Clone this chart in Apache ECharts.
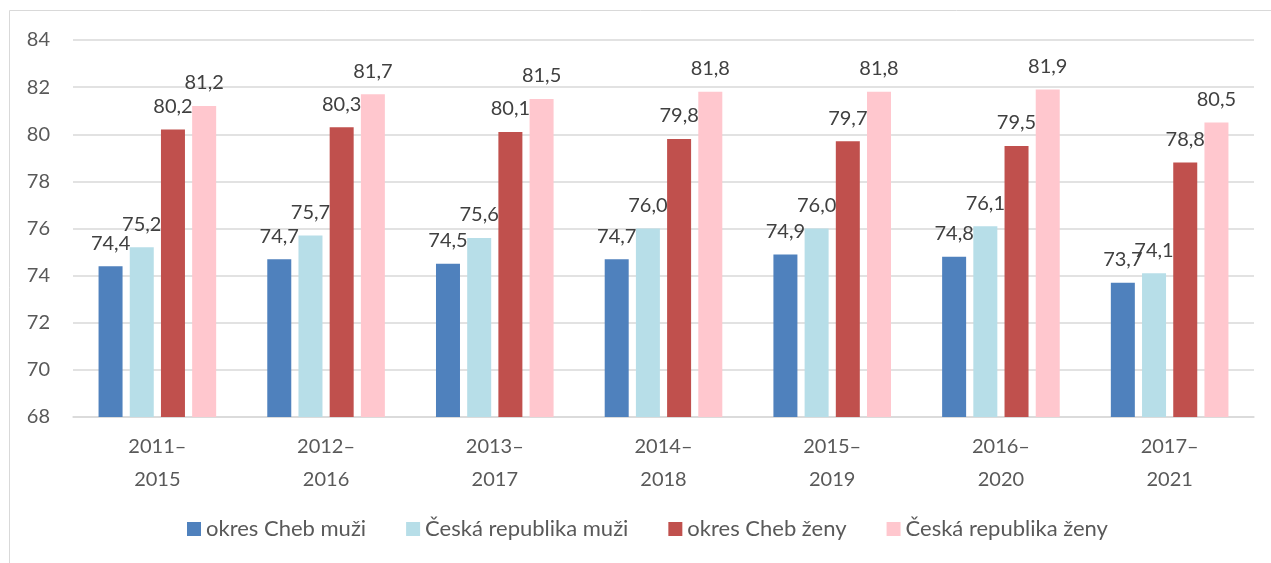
<!DOCTYPE html>
<html>
<head>
<meta charset="utf-8">
<script src="https://cdn.jsdelivr.net/npm/echarts@6/dist/echarts.min.js"></script>
<style>
  html, body { margin: 0; padding: 0; background: #fff; }
  #chart { width: 1271px; height: 563px; }
</style>
</head>
<body>
<div id="chart"></div>
<script>
var categories = ['2011–\n2015', '2012–\n2016', '2013–\n2017', '2014–\n2018', '2015–\n2019', '2016–\n2020', '2017–\n2021'];
var seriesNames = ['okres Cheb muži', 'Česká republika muži', 'okres Cheb ženy', 'Česká republika ženy'];
var chebMuzi = [74.4, 74.7, 74.5, 74.7, 74.9, 74.8, 73.7];
var crMuzi = [75.2, 75.7, 75.6, 76.0, 76.0, 76.1, 74.1];
var chebZeny = [80.2, 80.3, 80.1, 79.8, 79.7, 79.5, 78.8];
var crZeny = [81.2, 81.7, 81.5, 81.8, 81.8, 81.9, 80.5];
var colors = ['#4F81BD', '#B7DEE8', '#C0504D', '#FFC7CE'];

var font = 'Lato, "Open Sans", sans-serif';
var chart = echarts.init(document.getElementById('chart'));

function bar(name, data, color) {
    return {
        name: name,
        type: 'bar',
        data: data,
        barWidth: 24,
        barGap: '30%',
        itemStyle: { color: color },
        label: {
            show: true,
            position: 'top',
            distance: 13,
            color: '#404040',
            fontSize: 20,
            fontFamily: font,
            formatter: function (p) {
                return p.value.toFixed(1).replace('.', ',');
            }
        }
    };
}

var option = {
    animation: false,
    graphic: [{
        type: 'rect',
        shape: { x: 9.5, y: 10.5, width: 1400, height: 700 },
        style: { fill: 'none', stroke: '#d9d9d9', lineWidth: 1 }
    }],
    grid: { left: 73, right: 17, top: 40, bottom: 146, containLabel: false },
    legend: {
        bottom: 18,
        left: 182,
        itemWidth: 14,
        itemHeight: 14,
        itemGap: 40,
        icon: 'rect',
        textStyle: { color: '#595959', fontSize: 22, fontFamily: font },
        data: seriesNames
    },
    xAxis: {
        type: 'category',
        data: categories,
        axisLine: { lineStyle: { color: '#d9d9d9', width: 1.5 } },
        axisTick: { show: false },
        axisLabel: {
            color: '#595959',
            fontSize: 20,
            fontFamily: font,
            lineHeight: 33,
            margin: 13
        }
    },
    yAxis: {
        type: 'value',
        min: 68,
        max: 84,
        interval: 2,
        axisLine: { show: false },
        axisTick: { show: false },
        splitLine: { lineStyle: { color: '#d9d9d9', width: 1.5 } },
        axisLabel: {
            color: '#595959',
            fontSize: 20,
            fontFamily: font,
            margin: 23
        }
    },
    series: [
        bar(seriesNames[0], chebMuzi, colors[0]),
        bar(seriesNames[1], crMuzi, colors[1]),
        bar(seriesNames[2], chebZeny, colors[2]),
        bar(seriesNames[3], crZeny, colors[3])
    ]
};

chart.setOption(option);
</script>
</body>
</html>
